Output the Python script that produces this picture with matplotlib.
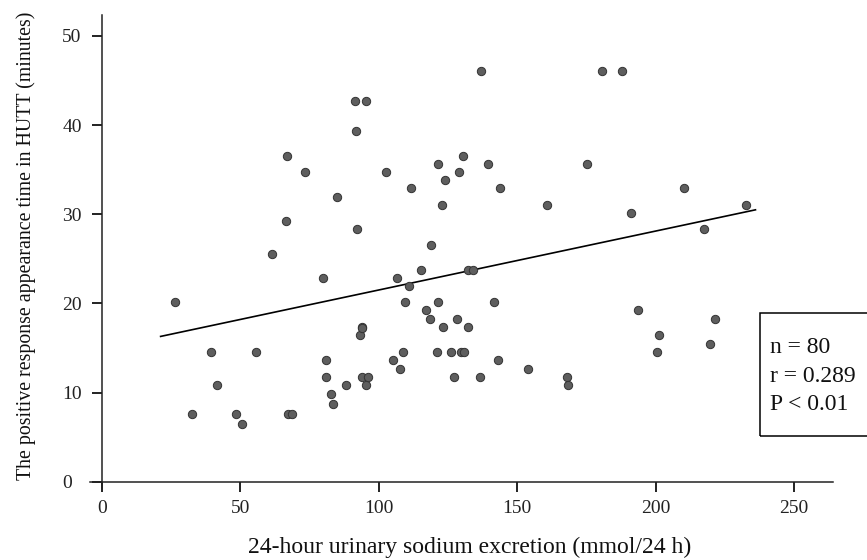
import numpy as np
import matplotlib
matplotlib.use("Agg")
import matplotlib.pyplot as plt

plt.rcParams['font.family'] = ['Liberation Serif', 'DejaVu Serif']

# ---- data (sodium excretion, response time) ----
sodium = [26.3, 32.4, 39.3, 41.5, 48.5, 50.6, 55.5, 61.6, 66.4, 66.9,
          67.3, 68.8, 73.4, 79.7, 80.8, 80.8, 82.9, 83.6, 85.0, 88.0,
          91.3, 91.9, 92.2, 93.1, 93.8, 93.8, 94.1, 95.2, 95.4, 96.1,
          102.6, 105.2, 106.5, 107.6, 108.8, 109.6, 111.0, 111.7, 115.2, 116.9,
          118.6, 118.7, 120.9, 121.4, 121.4, 122.7, 123.2, 123.8, 126.1, 127.3,
          128.4, 129.1, 129.6, 130.3, 130.7, 132.3, 132.3, 134.1, 136.5, 136.9,
          139.3, 141.5, 143.1, 143.6, 153.8, 160.7, 167.8, 168.2, 175.0, 180.5,
          187.7, 191.1, 193.6, 200.4, 201.2, 210.1, 217.5, 219.7, 221.5, 232.4]
minutes = [20.2, 7.6, 14.5, 10.8, 7.6, 6.5, 14.5, 25.6, 29.2, 36.5,
           7.6, 7.6, 34.7, 22.9, 13.6, 11.7, 9.8, 8.7, 31.9, 10.8,
           42.7, 39.3, 28.3, 16.5, 17.4, 17.2, 11.7, 10.8, 42.7, 11.7,
           34.7, 13.6, 22.9, 12.7, 14.6, 20.2, 22.0, 32.9, 23.8, 19.3,
           18.3, 26.5, 14.6, 35.6, 20.2, 31.0, 17.4, 33.8, 14.6, 11.7,
           18.3, 34.7, 14.6, 36.5, 14.6, 23.8, 17.4, 23.8, 11.7, 46.1,
           35.6, 20.2, 13.6, 32.9, 12.7, 31.0, 11.7, 10.8, 35.6, 46.1,
           46.1, 30.1, 19.3, 14.6, 16.5, 32.9, 28.3, 15.5, 18.3, 31.0]

fit_x = [21.2, 236.0]
fit_y = [16.3, 30.5]

x_ticks = [0, 50, 100, 150, 200, 250]
y_ticks = [0, 10, 20, 30, 40, 50]
stats_text = "n = 80\nr = 0.289\nP < 0.01"

# ---- figure ----
fig = plt.figure(figsize=(8.67, 5.60), dpi=100)
ax = fig.add_axes([0.1038, 0.1286, 0.857, 0.8446])

ax.scatter(sodium, minutes, s=36, c='#5e5e5e', edgecolors='#333333',
           linewidths=0.7, zorder=3)
ax.plot(fit_x, fit_y, color='black', lw=1.2, zorder=2)

ax.set_xlim(-4.3, 264)
ax.set_ylim(-0.7, 52.35)
ax.spines['left'].set_position(('data', 0))
ax.spines['bottom'].set_position(('data', 0))
ax.spines['top'].set_visible(False)
ax.spines['right'].set_visible(False)
for sp in ('left', 'bottom'):
    ax.spines[sp].set_linewidth(1.1)
    ax.spines[sp].set_color('#222222')

ax.set_xticks(x_ticks)
ax.set_yticks(y_ticks)
ax.tick_params(axis='x', direction='out', length=7.5, width=1.4,
               pad=5.5, labelsize=14, colors='#222222')
ax.tick_params(axis='y', direction='out', length=7.5, width=1.4,
               pad=21, labelsize=14, colors='#222222')
# y tick labels are left aligned in the original
for lab in ax.get_yticklabels():
    lab.set_horizontalalignment('left')

fig.text(0.542, 1 - 553 / 560, "24-hour urinary sodium excretion (mmol/24 h)",
         ha='center', va='baseline', fontsize=17, color='#111111')
fig.text(0.030, 0.561, "The positive response appearance time in HUTT (minutes)",
         ha='center', va='center', rotation=90, fontsize=14.3, color='#111111')

# stats box (runs off the right edge like the original)
box = plt.Rectangle((760 / 867, 1 - 436 / 560), 110 / 867, 123 / 560,
                    transform=fig.transFigure, fill=False, edgecolor='black',
                    lw=1.1, clip_on=False)
fig.patches.append(box)
fig.text(770 / 867, 1 - 376 / 560, stats_text, ha='left', va='center',
         fontsize=17, linespacing=1.45, color='#111111')

fig.savefig('out.png', dpi=100)
